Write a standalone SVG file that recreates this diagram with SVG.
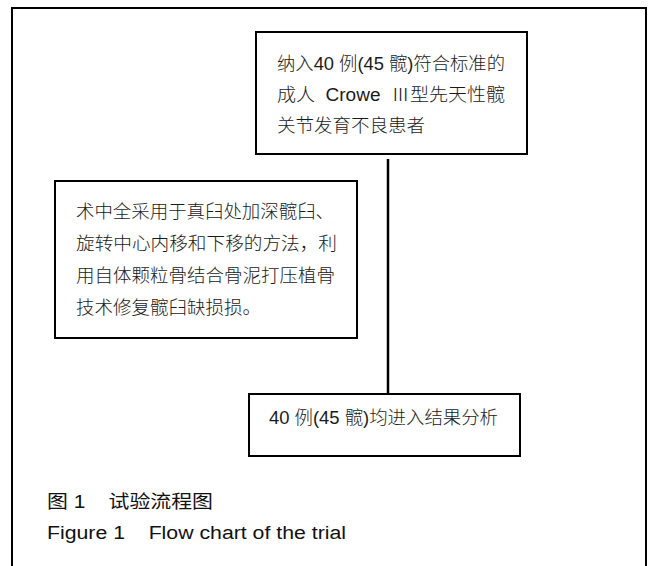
<svg xmlns="http://www.w3.org/2000/svg" width="651" height="566" viewBox="0 0 651 566">
<style>
.box{fill:#fff;stroke:#000;stroke-width:2}
.t{font-family:"Liberation Sans","Noto Sans CJK SC",sans-serif;font-size:18px;font-weight:300;fill:#1a1a1a;white-space:pre}
.c{font-family:"Liberation Sans","Noto Sans CJK SC",sans-serif;font-size:18px;fill:#111;white-space:pre}
.line{stroke:#000;stroke-width:2.5;fill:none}
</style>
<rect x="0" y="0" width="651" height="566" fill="#fff"/>
<path d="M12 570 V8 H646 V570" fill="none" stroke="#000" stroke-width="2"/>
<g id="connectors">
<line class="line" x1="388" y1="159" x2="388" y2="394"/>
</g>
<g id="node-top">
<rect class="box" x="256" y="32" width="271" height="122"/>
<text class="t" x="277" y="70" textLength="228" lengthAdjust="spacingAndGlyphs" xml:space="preserve">纳入40 例(45 髋)符合标准的</text>
<text class="t" x="277" y="101" textLength="228" lengthAdjust="spacingAndGlyphs" xml:space="preserve">成人  Crowe  Ⅲ型先天性髋</text>
<text class="t" x="277" y="132" textLength="148" lengthAdjust="spacingAndGlyphs">关节发育不良患者</text>
</g>
<g id="node-left">
<rect class="box" x="55" y="181" width="302" height="157"/>
<text class="t" x="76" y="218" textLength="258" lengthAdjust="spacingAndGlyphs">术中全采用于真臼处加深髋臼、</text>
<text class="t" x="76" y="250" textLength="261" lengthAdjust="spacingAndGlyphs">旋转中心内移和下移的方法，利</text>
<text class="t" x="76" y="282" textLength="259" lengthAdjust="spacingAndGlyphs">用自体颗粒骨结合骨泥打压植骨</text>
<text class="t" x="76" y="314" textLength="185" lengthAdjust="spacingAndGlyphs">技术修复髋臼缺损损。</text>
</g>
<g id="node-bottom">
<rect class="box" x="249" y="394" width="271" height="62"/>
<text class="t" x="269" y="424" textLength="229" lengthAdjust="spacingAndGlyphs" xml:space="preserve">40 例(45 髋)均进入结果分析</text>
</g>
<g id="caption">
<text class="c" x="47" y="508" textLength="166" lengthAdjust="spacingAndGlyphs" xml:space="preserve">图 1    试验流程图</text>
<text class="c" x="47" y="539" textLength="299" lengthAdjust="spacingAndGlyphs" xml:space="preserve">Figure 1    Flow chart of the trial</text>
</g>
</svg>
